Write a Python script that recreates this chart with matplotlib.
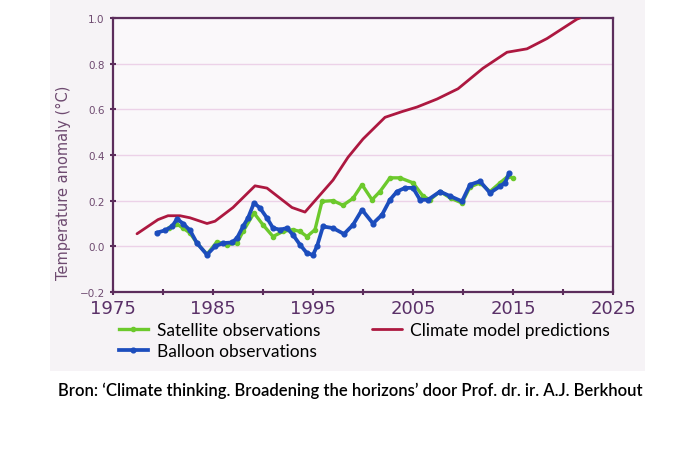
import matplotlib
matplotlib.use('Agg')
import matplotlib.pyplot as plt
from matplotlib.patches import Rectangle

# values
model_years = [1977.4, 1979.5, 1980.5, 1981.7, 1982.7, 1984.4, 1985.2, 1987.0, 1989.2, 1990.4,
               1992.9, 1994.2, 1997.0, 1998.5, 2000.0, 2002.2, 2003.9, 2005.4, 2007.4, 2009.5,
               2012.0, 2014.4, 2016.4, 2018.4, 2021.4, 2021.7]
model = [0.055, 0.117, 0.134, 0.134, 0.125, 0.10, 0.11, 0.17, 0.265, 0.255,
         0.17, 0.15, 0.29, 0.39, 0.47, 0.565, 0.59, 0.61, 0.645, 0.69,
         0.78, 0.85, 0.865, 0.91, 0.995, 1.0]

sat_years = [1980.6, 1981.3, 1982.0, 1982.7, 1983.4, 1984.4, 1985.4, 1986.4, 1987.4, 1988.0,
             1989.1, 1990.0, 1991.0, 1992.0, 1993.0, 1993.7, 1994.4, 1995.2, 1995.9, 1997.0,
             1998.0, 1999.0, 1999.9, 2000.9, 2001.7, 2002.7, 2003.7, 2005.0, 2006.0, 2006.7,
             2007.7, 2008.8, 2009.9, 2010.7, 2011.7, 2012.7, 2013.7, 2014.5, 2015.0]
satellite = [0.08, 0.10, 0.08, 0.058, 0.014, -0.035, 0.02, 0.007, 0.014, 0.065,
             0.146, 0.094, 0.043, 0.065, 0.073, 0.065, 0.043, 0.073, 0.197, 0.2,
             0.18, 0.21, 0.27, 0.204, 0.24, 0.30, 0.30, 0.278, 0.22, 0.204,
             0.24, 0.21, 0.19, 0.26, 0.278, 0.24, 0.278, 0.307, 0.30]

bal_years = [1979.4, 1980.2, 1980.9, 1981.4, 1982.0, 1982.7, 1983.4, 1984.4, 1985.2, 1986.0,
             1986.9, 1987.4, 1988.0, 1988.5, 1989.1, 1989.7, 1990.4, 1991.0, 1991.7, 1992.4,
             1993.0, 1993.7, 1994.4, 1995.0, 1995.4, 1996.0, 1997.0, 1998.1, 1999.0, 1999.9,
             2001.0, 2001.9, 2002.7, 2003.4, 2004.2, 2005.0, 2005.7, 2006.5, 2007.7, 2008.7,
             2009.9, 2010.7, 2011.7, 2012.7, 2013.7, 2014.2, 2014.6]
balloon = [0.06, 0.07, 0.087, 0.12, 0.10, 0.07, 0.014, -0.037, 0.0, 0.014,
           0.017, 0.036, 0.087, 0.124, 0.19, 0.168, 0.124, 0.08, 0.073, 0.08,
           0.05, 0.007, -0.03, -0.037, 0.0, 0.087, 0.08, 0.054, 0.094, 0.16,
           0.10, 0.138, 0.204, 0.24, 0.256, 0.256, 0.204, 0.204, 0.24, 0.22,
           0.197, 0.27, 0.285, 0.234, 0.263, 0.278, 0.319]

year_ticks = [1975, 1985, 1995, 2005, 2015, 2025]
temp_ticks = [-0.2, 0.0, 0.2, 0.4, 0.6, 0.8, 1.0]

purple = '#5c2d5c'
label_col = '#6e4a70'
narrow = ['Liberation Sans Narrow', 'DejaVu Sans']

fig = plt.figure(figsize=(7, 4.56), dpi=100)
# scanned page background
fig.patches.append(Rectangle((50 / 700, 1 - 372 / 456), 595 / 700, 372 / 456,
                             transform=fig.transFigure, facecolor='#f6f3f6',
                             edgecolor='none', zorder=-5))

ax = fig.add_axes([113 / 700, 1 - 293 / 456, 500 / 700, 274 / 456])
ax.set_facecolor('#faf8fa')

ax.plot(model_years, model, color='#ad1840', lw=2.0, label='Climate model predictions',
        solid_capstyle='round', zorder=3)
ax.plot(sat_years, satellite, color='#6cc92c', lw=2.4, marker='o', ms=3,
        label='Satellite observations', zorder=4)
ax.plot(bal_years, balloon, color='#1c4dbd', lw=2.7, marker='o', ms=3.4,
        label='Balloon observations', zorder=5)

ax.set_xlim(1975, 2025)
ax.set_ylim(-0.2, 1.0)
ax.set_xticks(year_ticks)
ax.set_xticks(range(1980, 2025, 10), minor=True)
ax.set_xticklabels([str(y) for y in year_ticks], fontsize=13, color='#5a3068',
                   family=narrow)
ax.set_yticks(temp_ticks)
ax.set_yticklabels(['\u22120.2', '0.0', '0.2', '0.4', '0.6', '0.8', '1.0'],
                   fontsize=7.5, color=label_col, family=narrow)
ax.tick_params(axis='both', which='both', direction='inout', length=4, width=1.5,
               color=purple)
ax.tick_params(axis='x', pad=3)
ax.tick_params(axis='y', pad=4)
for s in ax.spines.values():
    s.set_color(purple)
    s.set_linewidth(1.6)
ax.yaxis.grid(True, color='#ecd2e8', lw=1.0)
ax.set_axisbelow(True)

fig.text(63 / 700, 1 - 183 / 456, 'Temperature anomaly (\u00b0C)', rotation=90,
         ha='center', va='center', fontsize=10.5, color=label_col, family=narrow)

h, l = ax.get_legend_handles_labels()
order = [1, 2, 0]
fig.legend([h[i] for i in order], [l[i] for i in order], ncol=2,
           loc='upper left', bbox_to_anchor=(103 / 700, 1 - 307 / 456),
           frameon=False, handlelength=1.7, handletextpad=0.5,
           columnspacing=3.0, labelspacing=0.3, prop={'family': 'Lato', 'size': 12.5})

fig.text(350 / 700, 1 - 391 / 456,
         'Bron: \u2018Climate thinking. Broadening the horizons\u2019 door Prof. dr. ir. A.J. Berkhout',
         ha='center', va='center', fontsize=12, color='black', family='Lato',
         weight='semibold')

fig.savefig('out.png', dpi=100, facecolor='white')
